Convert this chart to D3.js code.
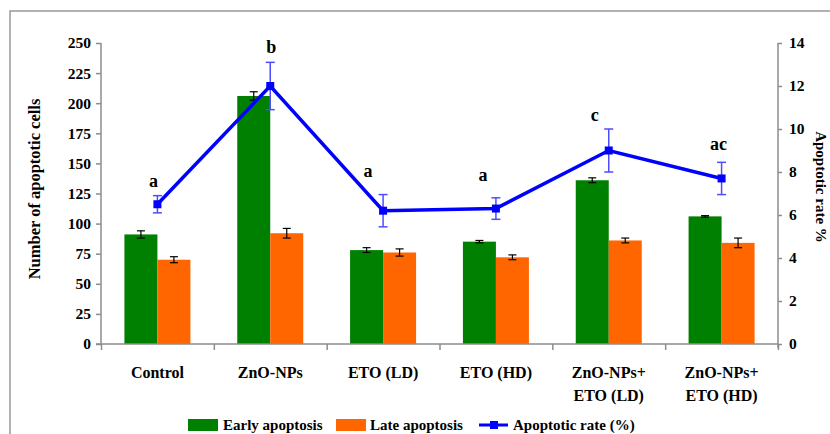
<!DOCTYPE html>
<html>
<head>
<meta charset="utf-8">
<script src="https://d3js.org/d3.v7.min.js"></script>
</head>
<body style="margin:0">
<svg id="chart" width="830" height="434" font-family="Liberation Serif" font-weight="bold"></svg>
<script>
// data
var groups = [["Control"], ["ZnO-NPs"], ["ETO (LD)"], ["ETO (HD)"], ["ZnO-NPs+", "ETO (LD)"], ["ZnO-NPs+", "ETO (HD)"]];
var early = [91, 206, 78, 85, 136, 106];
var earlyErr = [3, 3.5, 2, 1, 2, 0.6];
var late = [70, 92, 76, 72, 86, 84];
var lateErr = [2.5, 4, 3, 2, 2, 4];
var rate = [6.5, 12.0, 6.2, 6.3, 9.0, 7.7];
var rateErr = [0.4, 1.1, 0.75, 0.5, 1.0, 0.75];
var letters = ["a", "b", "a", "a", "c", "ac"];
// hand placement of the letters (px offset from top of error bar)
var letterShift = [[-4, -9], [1, -9], [-15, -18], [-13, -17], [-14, -8], [-3, -12]];
var leftTicks = [0, 25, 50, 75, 100, 125, 150, 175, 200, 225, 250];
var rightTicks = [0, 2, 4, 6, 8, 10, 12, 14];

var svg = d3.select("#chart");
var plotL = 101, plotR = 778, plotT = 43, plotB = 344;
var axisColor = "#8c8c8c";

// outer frame (only top and left edges show)
svg.append("rect").attr("x", 10).attr("y", 11).attr("width", 900).attr("height", 500)
  .attr("fill", "none").attr("stroke", "#999").attr("stroke-width", 1.5);

var x = d3.scaleBand().domain(d3.range(groups.length)).range([plotL, plotR]).padding(0);
var y = d3.scaleLinear().domain([0, 250]).range([plotB, plotT]);
var y2 = d3.scaleLinear().domain([0, 14]).range([plotB, plotT]);
var barW = 33;

function txt(parent, size) {
  return parent.append("text").attr("font-family", "Liberation Serif").attr("font-weight", "bold")
    .attr("font-size", size).attr("fill", "#000");
}

// bars
var g = svg.append("g");
g.selectAll(".early").data(early).enter().append("rect")
  .attr("x", function(d, i) { return x(i) + x.bandwidth() / 2 - barW; })
  .attr("y", function(d) { return y(d); })
  .attr("width", barW).attr("height", function(d) { return plotB - y(d); })
  .attr("fill", "#008000");
g.selectAll(".late").data(late).enter().append("rect")
  .attr("x", function(d, i) { return x(i) + x.bandwidth() / 2; })
  .attr("y", function(d) { return y(d); })
  .attr("width", barW).attr("height", function(d) { return plotB - y(d); })
  .attr("fill", "#ff6600");

function errBar(cx, yTop, yBot, color, w, cap) {
  g.append("line").attr("x1", cx).attr("x2", cx).attr("y1", yTop).attr("y2", yBot)
    .attr("stroke", color).attr("stroke-width", w);
  [yTop, yBot].forEach(function(yy) {
    g.append("line").attr("x1", cx - cap).attr("x2", cx + cap).attr("y1", yy).attr("y2", yy)
      .attr("stroke", color).attr("stroke-width", w);
  });
}
early.forEach(function(d, i) {
  var cx = x(i) + x.bandwidth() / 2 - barW / 2;
  errBar(cx, y(d + earlyErr[i]), y(d - earlyErr[i]), "#000", 1.2, 4);
});
late.forEach(function(d, i) {
  var cx = x(i) + x.bandwidth() / 2 + barW / 2;
  errBar(cx, y(d + lateErr[i]), y(d - lateErr[i]), "#000", 1.2, 4);
});

// axes
var axL = svg.append("g").attr("transform", "translate(" + plotL + ",0)")
  .call(d3.axisLeft(y).tickValues(leftTicks).tickSize(5).tickPadding(5));
var axR = svg.append("g").attr("transform", "translate(" + plotR + ",0)")
  .call(d3.axisRight(y2).tickValues(rightTicks).tickSize(4).tickPadding(7));
var axB = svg.append("g").attr("transform", "translate(0," + plotB + ")")
  .call(d3.axisBottom(d3.scaleLinear().domain([0, 6]).range([plotL, plotR]))
    .ticks(6).tickSize(6).tickFormat(""));
[axL, axR, axB].forEach(function(a) {
  a.attr("font-family", "Liberation Serif").attr("font-size", 15.5).attr("font-weight", "bold");
  a.select(".domain").remove();
  a.selectAll("line").attr("stroke", axisColor).attr("stroke-width", 1.5);
  a.selectAll("text").attr("fill", "#000");
});
svg.append("line").attr("x1", plotL).attr("x2", plotL).attr("y1", plotT).attr("y2", plotB).attr("stroke", axisColor).attr("stroke-width", 1.5);
svg.append("line").attr("x1", plotR).attr("x2", plotR).attr("y1", plotT).attr("y2", plotB + 4).attr("stroke", axisColor).attr("stroke-width", 1.5);
svg.append("line").attr("x1", plotL - 5).attr("x2", plotR).attr("y1", plotB).attr("y2", plotB).attr("stroke", axisColor).attr("stroke-width", 1.5);

// category labels
groups.forEach(function(lines, i) {
  var cx = x(i) + x.bandwidth() / 2;
  var t = txt(svg, 16).attr("text-anchor", "middle").attr("x", cx).attr("y", 378);
  lines.forEach(function(s, k) {
    t.append("tspan").attr("x", cx).attr("dy", k ? 23 : 0).text(s);
  });
});

// axis titles
txt(svg, 16.5).attr("transform", "translate(40,189)rotate(-90)").attr("text-anchor", "middle")
  .text("Number of apoptotic cells");
txt(svg, 15).attr("transform", "translate(816,187)rotate(90)").attr("text-anchor", "middle")
  .text("Apoptotic rate %");

// rate line with error bars
var cxs = rate.map(function(d, i) { return x(i) + x.bandwidth() / 2; });
rate.forEach(function(d, i) {
  errBar(cxs[i], y2(d + rateErr[i]), y2(d - rateErr[i]), "#4d4dff", 1.5, 4.5);
});
g.append("path").datum(rate)
  .attr("d", d3.line().x(function(d, i) { return cxs[i]; }).y(function(d) { return y2(d); }))
  .attr("fill", "none").attr("stroke", "#0000ff").attr("stroke-width", 3.5).attr("stroke-linejoin", "miter");
g.selectAll(".mk").data(rate).enter().append("rect")
  .attr("x", function(d, i) { return cxs[i] - 4; }).attr("y", function(d) { return y2(d) - 4; })
  .attr("width", 8).attr("height", 8).attr("fill", "#0000ff");

// significance letters
letters.forEach(function(s, i) {
  txt(svg, 18).attr("text-anchor", "middle")
    .attr("x", cxs[i] + letterShift[i][0]).attr("y", y2(rate[i] + rateErr[i]) + letterShift[i][1])
    .text(s);
});

// legend
var lg = svg.append("g");
lg.append("rect").attr("x", 188).attr("y", 419).attr("width", 30).attr("height", 12).attr("fill", "#008000");
txt(lg, 15).attr("x", 223).attr("y", 430).text("Early apoptosis");
lg.append("rect").attr("x", 336).attr("y", 419).attr("width", 30).attr("height", 12).attr("fill", "#ff6600");
txt(lg, 15).attr("x", 370).attr("y", 430).text("Late apoptosis");
lg.append("line").attr("x1", 479).attr("x2", 508).attr("y1", 425).attr("y2", 425).attr("stroke", "#0000ff").attr("stroke-width", 3);
lg.append("rect").attr("x", 490).attr("y", 421).attr("width", 8).attr("height", 8).attr("fill", "#0000ff");
txt(lg, 15).attr("x", 513).attr("y", 430).text("Apoptotic rate (%)");
</script>
</body>
</html>
